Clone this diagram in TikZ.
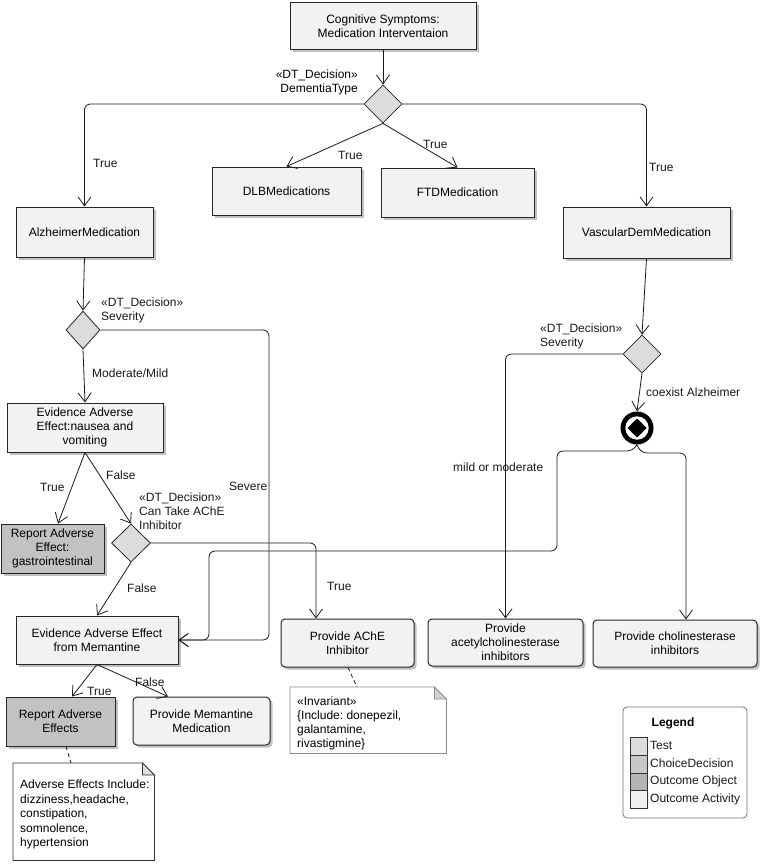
\documentclass[tikz,border=0pt]{standalone}
\usepackage{fontspec}
\setmainfont{Liberation Sans}
\usetikzlibrary{shapes.geometric,arrows.meta,shadows}
\definecolor{boxfill}{HTML}{F2F2F2}
\definecolor{decfill}{HTML}{DCDCDC}
\definecolor{outfill}{HTML}{C2C2C2}
\definecolor{lgtest}{HTML}{DDDDDD}
\definecolor{lgchoice}{HTML}{C8C8C8}
\definecolor{lgobj}{HTML}{B4B4B4}
\definecolor{lgact}{HTML}{F0F0F0}
\frenchspacing
\begin{document}
\begin{tikzpicture}[x=1pt,y=-1pt,
  font=\fontsize{12}{14}\selectfont,
  box/.style={draw=black!85, line width=1pt, fill=boxfill, align=center, inner sep=2pt,
    drop shadow={shadow xshift=2.5pt, shadow yshift=-2.5pt, fill=black!45, opacity=0.55}},
  rbox/.style={box, rounded corners=4pt},
  obox/.style={box, fill=outfill},
  dec/.style={diamond, draw=black!85, line width=0.8pt, fill=decfill, inner sep=0pt,
    minimum width=38pt, minimum height=38pt},
  arr/.style={draw=black!90, line width=0.8pt, -{Straight Barb[length=9pt,width=13pt]}},
  conn/.style={draw=black!90, line width=0.8pt},
  lab/.style={anchor=west, inner sep=0pt, text=black!90},
  notebox/.style={anchor=north west, align=left, inner xsep=7pt, inner ysep=5pt},
  notedraw/.style={line width=0.8pt, fill=white},
  dashline/.style={draw=black!90, line width=0.8pt, dashed, dash pattern=on 4pt off 3pt},
  swatch/.style={draw=black!80, line width=0.9pt, minimum width=17pt, minimum height=17.75pt, anchor=north west, inner sep=0pt}
]
\useasboundingbox (0,0) rectangle (762,864);

% ---------- nodes ----------
\node[box, minimum width=186pt, minimum height=47pt] (top) at (383,26.5) {Cognitive Symptoms:\\Medication Interventaion};
\node[dec] (d1) at (383,104) {};
\node[box, minimum width=149pt, minimum height=48pt] (dlb) at (286.5,191) {DLBMedications};
\node[box, minimum width=153pt, minimum height=49pt] (ftd) at (457.5,192.5) {FTDMedication};
\node[box, minimum width=137pt, minimum height=50pt] (alz) at (84.5,232) {AlzheimerMedication};
\node[box, minimum width=167pt, minimum height=51pt] (vas) at (646.5,232.5) {VascularDemMedication};
\node[dec, minimum width=34pt] (d2) at (83,330) {};
\node[dec] (d3) at (642,354) {};
\node[circle, fill=black, minimum size=33pt, inner sep=0pt] (ring) at (637,428) {};
\fill[white] (ring.center) circle (11.7pt);
\fill[black] (637,418.5) -- (646.5,428) -- (637,437.5) -- (627.5,428) -- cycle;
\fill[black] (ring.center) circle (6.8pt);
\node[box, minimum width=156pt, minimum height=49pt] (ev1) at (85,427.5) {Evidence Adverse\\Effect:nausea and\\vomiting};
\node[obox, minimum width=103pt, minimum height=49pt] (rep1) at (52.5,548.5) {Report Adverse\\Effect:\\gastrointestinal};
\node[dec, minimum width=39pt] (d4) at (131,543) {};
\node[box, minimum width=162pt, minimum height=48pt] (mem) at (97,640) {Evidence Adverse Effect\\from Memantine};
\node[rbox, minimum width=133pt, minimum height=48pt] (ache) at (347.5,643) {Provide AChE\\Inhibitor};
\node[rbox, minimum width=155pt, minimum height=47pt] (acetyl) at (505.5,642.5) {Provide\\acetylcholinesterase\\inhibitors};
\node[rbox, minimum width=164pt, minimum height=47pt] (chol) at (675,643.5) {Provide cholinesterase\\inhibitors};
\node[obox, minimum width=109pt, minimum height=49pt] (rep2) at (60.5,721.5) {Report Adverse\\Effects};
\node[rbox, minimum width=137pt, minimum height=48pt] (memprov) at (201.5,721) {Provide Memantine\\Medication};

% ---------- notes ----------
\node[notebox, minimum width=156pt, minimum height=66pt] (inv) at (290,687) {};
\draw[notedraw, draw=black!45] (inv.north west) -- ([xshift=-12pt]inv.north east) -- ([yshift=-12pt]inv.north east) -- (inv.south east) -- (inv.south west) -- cycle;
\filldraw[draw=black!45, fill=black!18, line width=0.8pt] ([xshift=-12pt]inv.north east) -- ([xshift=-12pt,yshift=-12pt]inv.north east) -- ([yshift=-12pt]inv.north east) -- cycle;
\node[notebox] (invtxt) at (290,692) {«Invariant»\\\{Include: donepezil,\\galantamine,\\rivastigmine\}};

\node[notebox, minimum width=141pt, minimum height=97pt] (adv) at (13,763) {};
\draw[notedraw, draw=black!80] (adv.north west) -- ([xshift=-12pt]adv.north east) -- ([yshift=-12pt]adv.north east) -- (adv.south east) -- (adv.south west) -- cycle;
\filldraw[draw=black!80, fill=black!12, line width=0.8pt] ([xshift=-12pt]adv.north east) -- ([xshift=-12pt,yshift=-12pt]adv.north east) -- ([yshift=-12pt]adv.north east) -- cycle;
\node[notebox, font=\fontsize{12}{14.5}\selectfont] (advtxt) at (13,775) {Adverse Effects Include:\\dizziness,headache,\\constipation,\\somnolence,\\hypertension};

% ---------- connectors ----------
\draw[arr] (top.south) -- (d1.north);
\draw[arr, rounded corners=6pt] (d1.west) -| (alz.north);
\draw[arr, rounded corners=6pt] (d1.east) -| (vas.north);
\draw[arr] (d1.south) -- (dlb.north);
\draw[arr] (d1.south) -- (ftd.north);
\draw[arr] (alz.south) -- (d2.north);
\draw[arr, rounded corners=6pt] (d2.east) -- (269,330) -- (269,640) -- (mem.east);
\draw[arr] (d2.south) -- (ev1.north);
\draw[arr] (ev1.south) -- ([xshift=5.5pt]rep1.north);
\draw[arr] (ev1.south) -- (d4.north);
\draw[arr, rounded corners=6pt] (d4.east) -| ([xshift=-31.5pt]ache.north);
\draw[arr] (d4.south) -- (mem.north);
\draw[arr] (vas.south) -- (d3.north);
\draw[arr, rounded corners=6pt] (d3.west) -| (acetyl.north);
\draw[arr] (d3.south) -- (ring.north);
\draw[arr, rounded corners=6pt] (ring.south) -- (633,451) -- (557,451) -- (557,551) -- (209,551) -- (209,640) -- (mem.east);
\draw[arr, rounded corners=6pt] (ring.south) -- (641,453) -- (686,453) -- ([xshift=11pt]chol.north);
\draw[arr] (mem.south) -- ([xshift=11.5pt]rep2.north);
\draw[arr] (mem.south) -- ([xshift=-33.5pt]memprov.north);
\draw[dashline] ([xshift=0.5pt]ache.south) -- ([xshift=67pt]inv.north west);
\draw[dashline] ([xshift=5.5pt]rep2.south) -- ([xshift=58pt]adv.north west);

% ---------- labels ----------
\node[anchor=east, align=right, inner sep=0pt] (l1) at (358,82) {«DT\_Decision»\\DementiaType};
\node[lab] (t1) at (93,163) {True};
\node[lab] (t2) at (338,155) {True};
\node[lab] (t3) at (423,144) {True};
\node[lab] (t4) at (649,167) {True};
\node[lab, align=left] (l2) at (101,310.5) {«DT\_Decision»\\Severity};
\node[lab] (mm) at (92,373) {Moderate/Mild};
\node[lab] (t5) at (40,487) {True};
\node[lab] (f1) at (106,475) {False};
\node[lab, align=left] (l4) at (139,511) {«DT\_Decision»\\Can Take AChE\\Inhibitor};
\node[lab] (sev) at (229,486) {Severe};
\node[lab] (t6) at (327,586) {True};
\node[lab] (f2) at (127,588) {False};
\node[lab] (t7) at (87,691) {True};
\node[lab] (f3) at (135,682) {False};
\node[lab, align=left] (l3) at (540,336.5) {«DT\_Decision»\\Severity};
\node[lab] (coex) at (646,392) {coexist Alzheimer};
\node[lab] (mild) at (453,467) {mild or moderate};

% ---------- legend ----------
\node[draw=black!55, rounded corners=4pt, line width=0.8pt, fill=white, minimum width=124pt, minimum height=111pt, inner sep=0pt] (legend) at (685,762.5) {};
\node[inner sep=0pt] (lgtitle) at (673,723) {\bfseries Legend};
\node[swatch, fill=lgtest] (s1) at (630,737) {};
\node[swatch, fill=lgchoice] (s2) at (630,754.75) {};
\node[swatch, fill=lgobj] (s3) at (630,772.5) {};
\node[swatch, fill=lgact] (s4) at (630,790.25) {};
\node[lab] (lt1) at (650,745) {Test};
\node[lab] (lt2) at (650,763) {ChoiceDecision};
\node[lab] (lt3) at (650,781) {Outcome Object};
\node[lab] (lt4) at (650,799) {Outcome Activity};
\end{tikzpicture}
\end{document}
